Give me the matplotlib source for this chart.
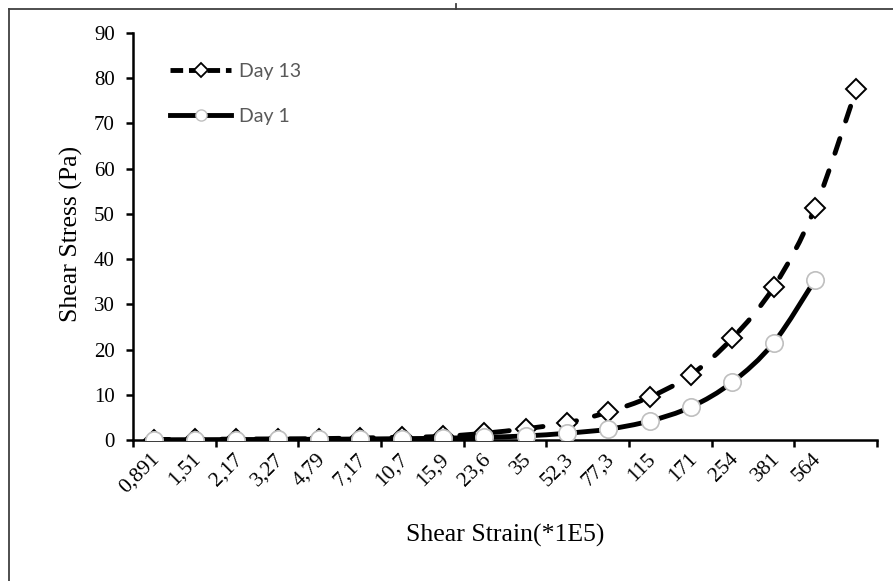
import numpy as np
import matplotlib
matplotlib.use('Agg')
import matplotlib.pyplot as plt
from matplotlib.path import Path
from matplotlib.patches import PathPatch
from matplotlib.lines import Line2D

# shear strain categories (*1E5); the last category has no label
strain_labels = ['0,891', '1,51', '2,17', '3,27', '4,79', '7,17', '10,7', '15,9',
                 '23,6', '35', '52,3', '77,3', '115', '171', '254', '381', '564', '']
day13 = [0.1, 0.15, 0.2, 0.25, 0.3, 0.45, 0.6, 0.8, 1.5, 2.5, 3.8, 6.2, 9.5,
         14.4, 22.5, 33.8, 51.3, 77.6]
day1 = [0.05, 0.07, 0.1, 0.13, 0.17, 0.22, 0.3, 0.4, 0.6, 0.9, 1.5, 2.4, 4.2,
        7.3, 12.8, 21.5, 35.4]


def smooth_path(x, y):
    # Catmull-Rom like bezier through the points (similar to Excel smoothing)
    pts = np.column_stack([x, y]).astype(float)
    verts = [pts[0]]
    codes = [Path.MOVETO]
    n = len(pts)
    for i in range(n - 1):
        p0 = pts[max(i - 1, 0)]
        p1 = pts[i]
        p2 = pts[i + 1]
        p3 = pts[min(i + 2, n - 1)]
        c1 = p1 + (p2 - p0) / 6.0
        c2 = p2 - (p3 - p1) / 6.0
        verts += [c1, c2, p2]
        codes += [Path.CURVE4] * 3
    return Path(verts, codes)


fig = plt.figure(figsize=(8.93, 5.81), dpi=100)
ax = fig.add_axes([133 / 893, 1 - 440 / 581, 744 / 893, 407 / 581])

x13 = np.arange(len(day13)) + 0.5
x1 = np.arange(len(day1)) + 0.5

p13 = PathPatch(smooth_path(x13, day13), fill=False, lw=3.5, ec='black',
                linestyle=(0, (3.2, 3.8)), capstyle='round', zorder=2)
ax.add_patch(p13)
ax.plot(x13, day13, ls='none', marker='D', ms=10, mfc='white', mec='black',
        mew=1.4, zorder=3)

p1 = PathPatch(smooth_path(x1, day1), fill=False, lw=3.5, ec='black',
               capstyle='round', zorder=4)
ax.add_patch(p1)
ax.plot(x1, day1, ls='none', marker='o', ms=12.5, mfc='white', mec='#bfbfbf',
        mew=1.2, zorder=5)

ax.set_xlim(0, len(strain_labels))
ax.set_ylim(0, 90)
ax.set_yticks(range(0, 91, 10))
ax.set_xticks(range(0, len(strain_labels) + 1, 2))
ax.set_xticklabels([])
ax.set_xticks(x13 - 0.08, strain_labels, minor=True)
ax.tick_params(axis='x', which='minor', length=0, pad=7)
ax.tick_params(axis='x', which='major', length=5, width=1.8, direction='out')
ax.tick_params(axis='y', length=5, width=1.8, direction='out', pad=8)

for lab in ax.get_xticklabels(minor=True):
    lab.set_rotation(45)
    lab.set_ha('right')
    lab.set_va('top')
    lab.set_rotation_mode('anchor')
    lab.set_family('Liberation Serif')
    lab.set_fontsize(15.5)
for lab in ax.get_yticklabels():
    lab.set_family('Liberation Serif')
    lab.set_fontsize(15)

for s in ['top', 'right']:
    ax.spines[s].set_visible(False)
for s in ['left', 'bottom']:
    ax.spines[s].set_linewidth(1.8)

ax.set_ylabel('Shear Stress (Pa)', family='Liberation Serif', fontsize=18.5,
              va='center')
ax.set_xlabel('Shear Strain(*1E5)', family='Liberation Serif', fontsize=18.5,
              va='center')
ax.yaxis.set_label_coords((71 - 133) / 744, (440 - 234) / 407)
ax.xaxis.set_label_coords(0.5, (440 - 535) / 407)

legend_elements = [
    Line2D([0], [0], color='black', lw=3.5, linestyle=(0, (2.6, 1.2)), marker='D',
           ms=7, mfc='white', mec='black', mew=1.3, label='Day 13'),
    Line2D([0], [0], color='black', lw=3.5, marker='o', ms=8, mfc='white',
           mec='#bfbfbf', mew=1.0, label='Day 1'),
]
leg = ax.legend(handles=legend_elements, loc='upper left',
                bbox_to_anchor=(0.032, 0.96), frameon=False, handlelength=3.1,
                handletextpad=0.45, labelspacing=1.45, borderpad=0.2,
                prop={'family': 'Lato', 'size': 14})
for t in leg.get_texts():
    t.set_color('#595959')

# outer frame lines (top and left only)
fig.add_artist(Line2D([9 / 893, 1], [1 - 9 / 581, 1 - 9 / 581], color='#404040', lw=1.3))
fig.add_artist(Line2D([9 / 893, 9 / 893], [0, 1 - 9 / 581], color='#404040', lw=1.3))
fig.add_artist(Line2D([456 / 893, 456 / 893], [1 - 9 / 581, 1 - 4 / 581], color='#404040', lw=1.3))

fig.savefig('out.png', dpi=100)
